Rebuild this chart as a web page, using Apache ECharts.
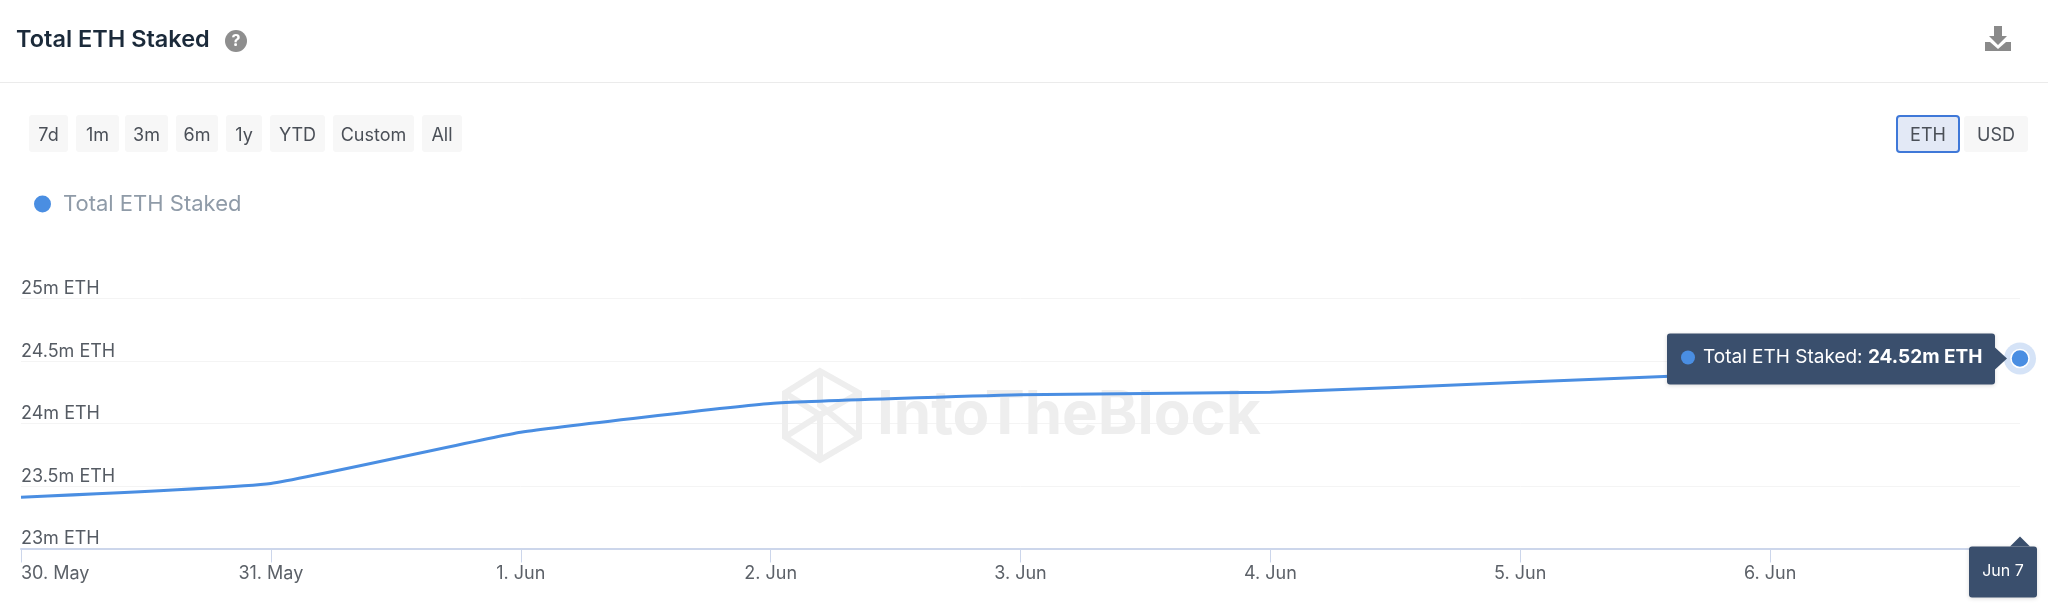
<!DOCTYPE html>
<html>
<head>
<meta charset="utf-8">
<title>Total ETH Staked</title>
<style>
html,body{margin:0;padding:0;background:#fff}
#chart{width:2048px;height:612px}
</style>
<script src="https://cdn.jsdelivr.net/npm/echarts@6/dist/echarts.min.js"></script>
</head>
<body>
<div id="chart"></div>
<script>
// values (million ETH)
var dayLabels=["30. May","31. May","1. Jun","2. Jun","3. Jun","4. Jun","5. Jun","6. Jun","Jun 7"];
var stakedValues=[23.41,23.52,23.93,24.16,24.23,24.25,24.33,24.41,24.52];
var seriesName="Total ETH Staked";

var rangeButtons=["7d","1m","3m","6m","1y","YTD","Custom","All"];
var rangeX=[29,76,125,176,226,270,333,422];
var rangeW=[39,43,43,42,36,55,81,40];
var FONT="Inter";
var BLUE="#4a8ee2";
var DARK="#3a4f6d";

var myChart=echarts.init(document.getElementById("chart"),null,{renderer:"canvas"});

function button(x,y,w,h,label,active){
	return [{
		type:"rect",z:5,
		shape:{x:x,y:y,width:w,height:h,r:3},
		style:{fill:active?"#e3e9f6":"#f7f7f7",stroke:active?"#3f78d8":null,lineWidth:active?2:0}
	},{
		type:"text",z:6,x:x+w/2,y:y+h/2+2,
		style:{text:label,fill:"#4a4f57",font:"18px "+FONT,align:"center",verticalAlign:"middle"}
	}];
}

function buildGraphic(){
	var g=[];
	// header
	g.push({type:"rect",z:1,shape:{x:0,y:82,width:2048,height:1},style:{fill:"#ebebeb"}});
	g.push({type:"circle",z:5,shape:{cx:236,cy:41,r:11},style:{fill:"#8e8e8e"}});
	g.push({type:"text",z:6,x:236,y:41,style:{text:"?",fill:"#fff",font:"bold 16px "+FONT,align:"center",verticalAlign:"middle"}});
	// download icon
	g.push({type:"polygon",z:5,shape:{points:[[1994,26],[2002,26],[2002,36],[2007,36],[1998,45],[1989,36],[1994,36]]},style:{fill:"#8a8a8a"}});
	g.push({type:"polygon",z:5,shape:{points:[[1985,42],[1990,42],[1998,49],[2006,42],[2011,42],[2011,51],[1985,51]]},style:{fill:"#8a8a8a"}});
	// range buttons
	for(var i=0;i<rangeButtons.length;i++){
		g=g.concat(button(rangeX[i],115,rangeW[i],37,rangeButtons[i],false));
	}
	g=g.concat(button(1964,116,64,36,"USD",false));
	g=g.concat(button(1897,116,62,36,"ETH",true));
	// watermark
	var wm="#eeeeee";
	g.push({type:"polygon",z:1,shape:{points:[[820,371],[859,393],[859,437],[820,460],[785,437],[785,393]]},style:{fill:null,stroke:wm,lineWidth:6}});
	g.push({type:"polyline",z:1,shape:{points:[[820,371],[820,405],[859,437]]},style:{fill:null,stroke:wm,lineWidth:6}});
	g.push({type:"polyline",z:1,shape:{points:[[785,393],[820,415],[859,393]]},style:{fill:null,stroke:wm,lineWidth:6}});
	g.push({type:"polyline",z:1,shape:{points:[[785,437],[820,415],[820,460]]},style:{fill:null,stroke:wm,lineWidth:6}});
	g.push({type:"text",z:1,x:877,y:416,style:{text:"IntoTheBlock",fill:wm,font:"bold 60px "+FONT,verticalAlign:"middle"}});
	// tooltip, placed from the last point
	var last=stakedValues.length-1;
	var p=myChart.convertToPixel({xAxisIndex:0,yAxisIndex:0},[last,stakedValues[last]]);
	var bx=p[0]-353,by=p[1]-25;
	g.push({type:"rect",z:50,shape:{x:bx,y:by,width:328,height:51,r:3},
		style:{fill:DARK,shadowBlur:4,shadowColor:"rgba(0,0,0,0.15)",shadowOffsetY:1}});
	g.push({type:"polygon",z:50,shape:{points:[[bx+328,p[1]-11],[p[0]-13,p[1]],[bx+328,p[1]+11]]},style:{fill:DARK}});
	g.push({type:"circle",z:51,shape:{cx:bx+21,cy:p[1]-1,r:7},style:{fill:BLUE}});
	g.push({type:"text",z:51,x:bx+36,y:p[1]-1,style:{
		text:"{a|"+seriesName+": }{b|"+stakedValues[last].toFixed(2)+"m ETH}",
		verticalAlign:"middle",
		rich:{
			a:{fill:"#fff",font:"19px "+FONT},
			b:{fill:"#fff",font:"bold 19px "+FONT}
		}
	}});
	// date flag under the axis
	var ax=p[0],ay=myChart.convertToPixel({yAxisIndex:0},23);
	g.push({type:"rect",z:50,shape:{x:ax-51,y:ay-2,width:68,height:51,r:3},
		style:{fill:DARK,shadowBlur:4,shadowColor:"rgba(0,0,0,0.15)",shadowOffsetY:1}});
	g.push({type:"polygon",z:50,shape:{points:[[ax-10,ay-2],[ax,ay-12],[ax+10,ay-2]]},style:{fill:DARK}});
	g.push({type:"text",z:51,x:ax-17,y:ay+23,style:{text:dayLabels[last],fill:"#fff",font:"16px "+FONT,align:"center",verticalAlign:"middle"}});
	return g;
}

var option={
	animation:false,
	backgroundColor:"#fff",
	textStyle:{fontFamily:FONT},
	title:{
		text:seriesName,left:16,top:28,padding:0,
		textStyle:{fontFamily:FONT,fontSize:23.5,fontWeight:600,color:"#1b2a3a"}
	},
	legend:{
		left:34,top:193,padding:0,itemGap:0,
		icon:"circle",itemWidth:17,itemHeight:17,
		data:[seriesName],
		textStyle:{fontFamily:FONT,fontSize:22,color:"#8f9ba8",padding:[0,0,2,7]}
	},
	grid:{left:21,right:28,top:298.5,bottom:63.5,containLabel:false},
	xAxis:{
		type:"category",boundaryGap:false,data:dayLabels,
		axisLine:{lineStyle:{color:"#ccd6eb",width:2}},
		axisTick:{show:true,alignWithLabel:true,length:14,lineStyle:{color:"#ccd6eb",width:1}},
		axisLabel:{
			interval:0,margin:16,color:"#5c6168",fontFamily:FONT,fontSize:18,alignMinLabel:"left",
			formatter:function(v,i){return i==dayLabels.length-1?"":v}
		},
		splitLine:{show:false}
	},
	yAxis:{
		type:"value",min:23,max:25,interval:0.5,
		axisLine:{show:false},axisTick:{show:false},
		axisLabel:{
			inside:true,margin:0,color:"#555b63",fontFamily:FONT,fontSize:18,
			verticalAlign:"bottom",lineHeight:19,
			formatter:function(v){return v+"m ETH"}
		},
		splitLine:{lineStyle:{color:"#f4f4f4",width:1}}
	},
	series:[{
		name:seriesName,type:"line",data:stakedValues,
		smooth:0.12,showSymbol:false,z:10,
		lineStyle:{color:BLUE,width:3},
		itemStyle:{color:BLUE},
		markPoint:{
			silent:true,label:{show:false},z:40,
			data:[
				{coord:[stakedValues.length-1,stakedValues[stakedValues.length-1]],symbol:"circle",symbolSize:32,itemStyle:{color:"#d5e3f7"}},
				{coord:[stakedValues.length-1,stakedValues[stakedValues.length-1]],symbol:"circle",symbolSize:18,itemStyle:{color:BLUE,borderColor:"#fff",borderWidth:1.5}}
			]
		}
	}]
};
myChart.setOption(option);
myChart.setOption({graphic:buildGraphic()});
</script>
</body>
</html>
